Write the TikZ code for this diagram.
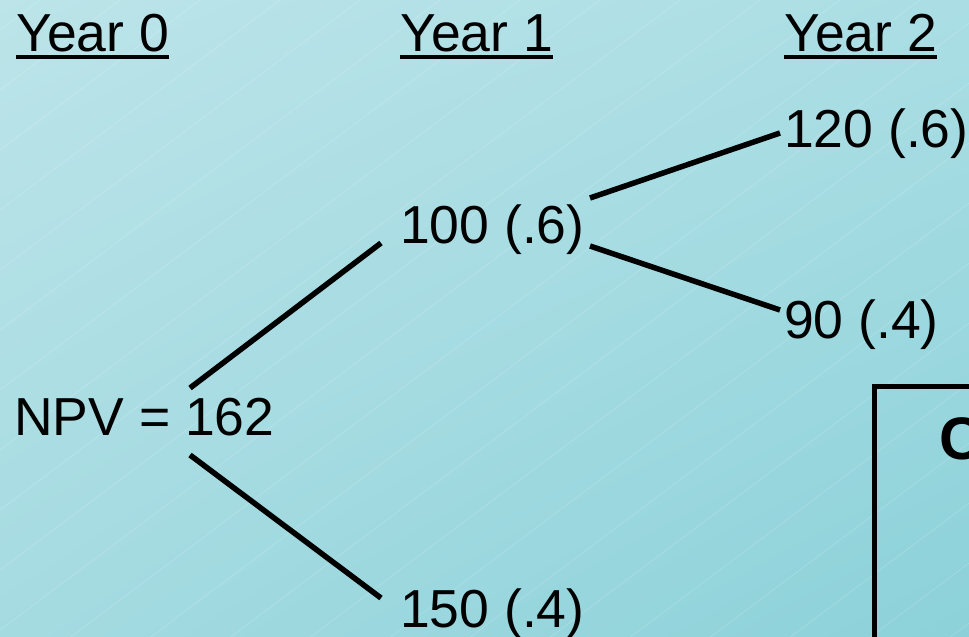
\documentclass[tikz,border=0pt]{standalone}
\usepackage{fontspec}
\setmainfont{Liberation Sans}
\usetikzlibrary{shadings}
\definecolor{bgUL}{RGB}{188,228,233}
\definecolor{bgUR}{RGB}{170,222,228}
\definecolor{bgLL}{RGB}{164,219,225}
\definecolor{bgLR}{RGB}{140,209,217}
\begin{document}
\begin{tikzpicture}[x=1pt,y=-1pt,
  lbl/.style={inner sep=0pt,anchor=base west,font=\fontsize{53.5}{60}\selectfont},
  branch/.style={line width=5.5pt},
  uline/.style={line width=4pt}]
\useasboundingbox (0,0) rectangle (969,637);
\begin{scope}
\clip (0,0) rectangle (969,637);
\shade[upper left=bgUL, upper right=bgUR, lower left=bgLL, lower right=bgLR]
  (0,0) rectangle (969,637);
\foreach \c in {30,90,...,1410}
  \draw[white,opacity=0.2,line width=0.6pt] (0,\c) -- (969,\c-727);
% partially visible box
\draw[line width=5pt] (874.5,1000) -- (874.5,386.5) -- (1100,386.5);
\node[inner sep=0pt,anchor=base west,font=\bfseries\fontsize{60}{66}\selectfont] (cc) at (939,459) {C};
\end{scope}
% headers
\node[lbl] (y0) at (16,51) {Year 0};
\node[lbl] (y1) at (400,51) {Year 1};
\node[lbl] (y2) at (784,51) {Year 2};
\foreach \n in {y0,y1,y2}
  \draw[uline] ([yshift=-6pt]\n.base west) -- ([yshift=-6pt]\n.base east);
% tree labels
\node[lbl] (npv) at (14,435) {NPV = 162};
\node[lbl] (n100) at (400,243) {100 (.6)};
\node[lbl] (n150) at (400,627) {150 (.4)};
\node[lbl] (n120) at (784,147) {120 (.6)};
\node[lbl] (n90) at (784,338) {90 (.4)};
% branches
\draw[branch] ([shift={(176,-47)}]npv.base west) -- ([shift={(-19,0)}]n100.base west);
\draw[branch] ([shift={(176,20)}]npv.base west) -- ([shift={(-19,-29)}]n150.base west);
\draw[branch] ([shift={(190,-45)}]n100.base west) -- ([shift={(-4,-14)}]n120.base west);
\draw[branch] ([shift={(190,3)}]n100.base west) -- ([shift={(-4,-28)}]n90.base west);
\end{tikzpicture}
\end{document}
